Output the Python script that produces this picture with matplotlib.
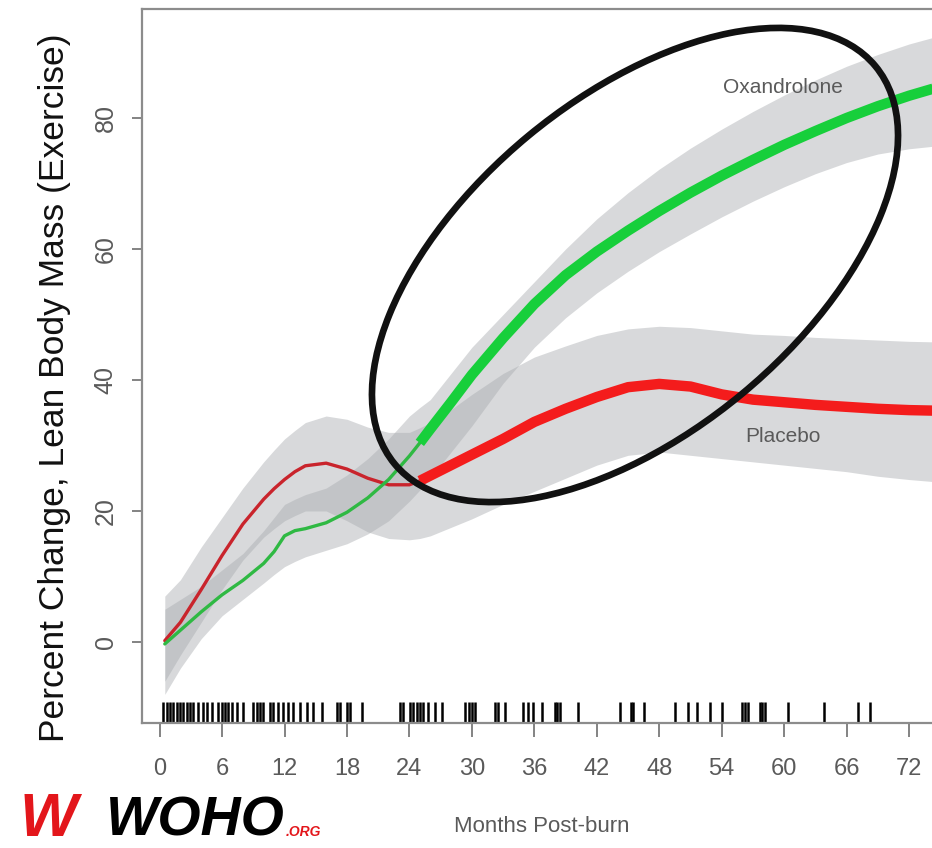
import numpy as np
import matplotlib
matplotlib.use("Agg")
import matplotlib.pyplot as plt
from matplotlib.patches import Ellipse

# values
months = [0.5, 2, 4, 6, 8, 10, 11, 12, 13, 14, 16, 18, 20, 22, 24, 25, 26, 28,
          30, 33, 36, 39, 42, 45, 48, 51, 54, 57, 60, 63, 66, 69, 72, 75]

oxandrolone = [-0.3, 1.8, 4.6, 7.2, 9.4, 12.0, 13.8, 16.2, 17.0, 17.3, 18.2, 19.8,
               22.0, 24.8, 28.4, 30.4, 32.5, 36.6, 40.8, 46.4, 51.6, 56.0, 59.6,
               62.8, 65.8, 68.6, 71.2, 73.6, 75.9, 78.0, 80.0, 81.8, 83.4, 84.8]
oxa_lo = [-8, -4, 0.5, 4, 6.5, 9, 10.3, 11.5, 12.3, 13, 14, 15, 16.5, 18.5, 21.5,
          23.2, 25, 29, 33, 39.5, 45, 49.5, 53.3, 56.6, 59.6, 62.3, 64.9, 67.3,
          69.5, 71.5, 73.2, 74.5, 75.3, 75.8]
oxa_hi = [5, 6.5, 8.5, 11, 13.5, 17, 19, 21, 21.8, 22.5, 23.5, 25.5, 28, 31, 34.5,
          35.8, 37, 41, 45, 50, 55, 60, 64.6, 68.6, 72.2, 75.4, 78.3, 81, 83.5,
          85.8, 87.9, 89.7, 91.3, 92.6]

placebo = [0.2, 3.0, 8.0, 13.2, 18.0, 21.8, 23.4, 24.8, 26.0, 26.9, 27.3, 26.4,
           25.0, 24.0, 24.0, 24.6, 25.4, 27.0, 28.6, 31.0, 33.6, 35.6, 37.4, 38.9,
           39.4, 39.0, 37.8, 37.0, 36.6, 36.2, 35.9, 35.6, 35.4, 35.3]
pla_lo = [-6, -2, 3, 8, 12.5, 16, 17.3, 18.5, 19.3, 20, 20, 18.5, 16.8, 15.8, 15.6,
          15.8, 16.2, 17.5, 18.8, 21, 23, 25, 27, 28.5, 29, 28.5, 28, 27.5, 27,
          26.5, 26, 25.3, 24.8, 24.4]
pla_hi = [7, 9.5, 14.5, 19, 23.5, 27.5, 29.3, 31, 32.3, 33.5, 34.5, 34, 32.8, 32,
          32, 32.7, 33.5, 35.5, 37.8, 41, 43.5, 45.2, 46.8, 47.8, 48.2, 48, 47.5,
          47, 46.8, 46.5, 46.3, 46.1, 45.9, 45.8]

# observation months (rug)
rug = [0.36, 0.68, 1.0, 1.32, 1.65, 1.96, 2.28, 2.6, 2.92, 3.24, 3.72, 4.2, 4.52,
       5.0, 5.64, 5.96, 6.28, 6.6, 6.92, 7.4, 8.04, 9.0, 9.33, 9.64, 9.96, 10.6,
       10.92, 11.4, 11.88, 12.36, 12.84, 13.5, 14.13, 14.77, 15.57, 17.0, 17.33,
       17.97, 18.29, 19.4, 23.1, 23.4, 24.05, 24.37, 24.7, 25.0, 25.3, 25.8,
       26.45, 27.1, 29.3, 29.7, 30.0, 30.3, 32.2, 32.5, 33.2, 34.9, 35.4, 35.9,
       36.7, 37.98, 38.2, 38.46, 40.2, 44.2, 45.3, 45.5, 46.5, 49.5, 50.8, 51.6,
       52.9, 54.0, 55.9, 56.2, 56.5, 57.7, 57.9, 58.2, 60.4, 63.8, 67.1, 68.2]

x_ticks = list(range(0, 73, 6))
y_ticks = [0, 20, 40, 60, 80]
SPLIT = 25  # month where the curves change from thin to thick

SANS = ["Liberation Sans", "DejaVu Sans"]
GREY_TXT = "#5a5a5a"

plt.rcParams["font.family"] = SANS

W, H = 932, 848
fig = plt.figure(figsize=(W / 100, H / 100), dpi=100)
ax = fig.add_axes([142 / W, 1 - 723 / H, (W - 142) / W, (723 - 9) / H])

m = np.array(months)
ax.fill_between(m, pla_lo, pla_hi, color="#a9acb0", alpha=0.45, lw=0)
ax.fill_between(m, oxa_lo, oxa_hi, color="#a9acb0", alpha=0.45, lw=0)

i = months.index(SPLIT)
ax.plot(months[:i + 1], placebo[:i + 1], color="#c9242c", lw=2.4,
        solid_capstyle="round", solid_joinstyle="round")
ax.plot(months[:i + 1], oxandrolone[:i + 1], color="#2fb943", lw=2.4,
        solid_capstyle="round", solid_joinstyle="round")
ax.plot(months[i:], placebo[i:], color="#f41c1c", lw=7.5,
        solid_capstyle="butt", solid_joinstyle="round")
ax.plot(months[i:], oxandrolone[i:], color="#17cf3b", lw=7.5,
        solid_capstyle="butt", solid_joinstyle="round")

ax.vlines(rug, 0, 0.029, transform=ax.get_xaxis_transform(),
          color="black", lw=1.8)

ax.text(59.9, 84.6, "Oxandrolone", fontsize=15, color=GREY_TXT,
        ha="center", va="center")
ax.text(59.9, 31.3, "Placebo", fontsize=15, color=GREY_TXT,
        ha="center", va="center")

ax.set_xlim(-1.69, 74.2)
ax.set_ylim(-12.37, 96.64)
ax.set_xticks(x_ticks)
ax.set_yticks(y_ticks)
ax.tick_params(axis="x", length=10, width=1.3, color="#7a7a7a", pad=15,
               labelsize=17, labelcolor=GREY_TXT)
ax.tick_params(axis="y", length=7.5, width=1.3, color="#7a7a7a", pad=10,
               labelsize=18, labelcolor=GREY_TXT, labelrotation=90)
for lab in ax.get_yticklabels():
    lab.set_va("center")

for side in ("left", "bottom", "top"):
    ax.spines[side].set_color("#8c8c8c")
    ax.spines[side].set_linewidth(1.6)
ax.spines["right"].set_visible(False)

fig.text(55 / W, 1 - 388 / H, "Percent Change, Lean Body Mass (Exercise)",
         rotation=90, fontsize=25.5, ha="center", va="center", color="#111111")
fig.text(542 / W, 1 - 826 / H, "Months Post-burn", fontsize=16,
         color=GREY_TXT, ha="center", va="center")

# highlight ellipse drawn in figure inches
ell = Ellipse((635 / 100, (H - 265) / 100), 624 / 100, 335 / 100, angle=39.6,
              transform=fig.dpi_scale_trans, fill=False, ec="#111111", lw=4.8)
fig.add_artist(ell)

# watermark logo
fig.text(20 / W, 12 / H, "W", fontsize=44, color="#e3161b", fontweight="bold",
         style="italic", ha="left", va="baseline")
fig.text(106 / W, 12 / H, "WOHO", fontsize=40, color="black", fontweight="bold",
         style="italic", ha="left", va="baseline")
fig.text(286 / W, 12 / H, ".ORG", fontsize=10, color="#e3161b",
         fontweight="bold", style="italic", ha="left", va="baseline")

fig.savefig("out.png", dpi=100)
